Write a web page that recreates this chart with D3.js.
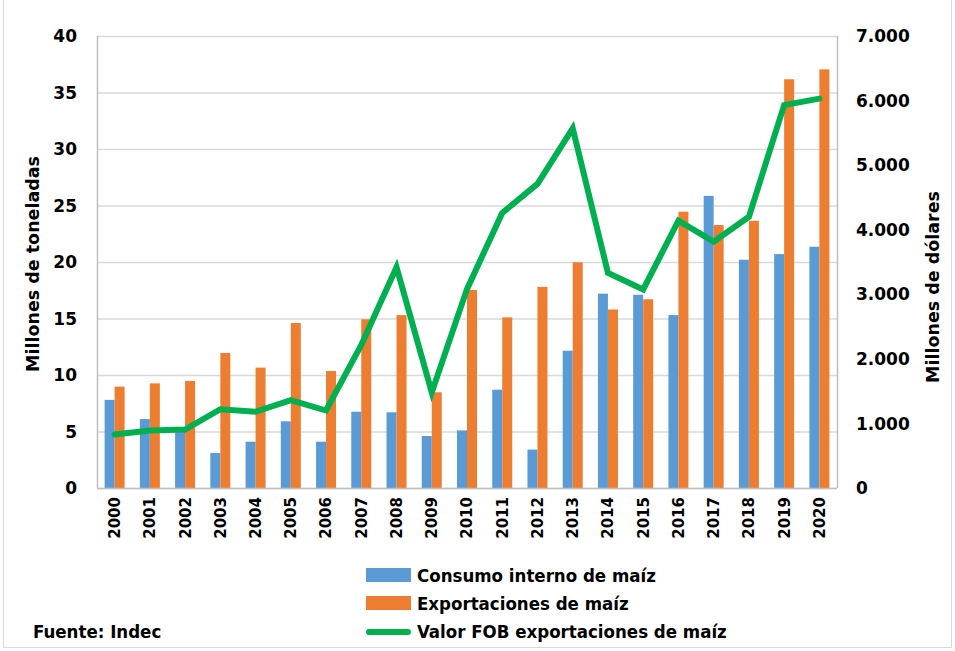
<!DOCTYPE html>
<html lang="es">
<head>
<meta charset="UTF-8">
<title>Maíz: consumo interno, exportaciones y valor FOB</title>
<script src="https://d3js.org/d3.v7.min.js"></script>
<style>
  body { margin: 0; background: #fff; }
  text { font-family: "DejaVu Sans", sans-serif; font-weight: bold; fill: #000; }
  .legend text, .source { font-family: "DejaVu Sans Condensed", "Liberation Sans Narrow", sans-serif; }
</style>
</head>
<body>
<svg id="chart"></svg>
<script>
// years on the x axis
const years = ["2000","2001","2002","2003","2004","2005","2006","2007","2008","2009","2010",
               "2011","2012","2013","2014","2015","2016","2017","2018","2019","2020"];
// millones de toneladas
const consumo = [7.8, 6.1, 5.0, 3.1, 4.1, 5.9, 4.1, 6.75, 6.7, 4.6, 5.1,
                 8.7, 3.4, 12.15, 17.2, 17.1, 15.3, 25.85, 20.2, 20.7, 21.35];
const exportaciones = [8.97, 9.26, 9.47, 11.95, 10.65, 14.6, 10.35, 14.93, 15.3, 8.47, 17.52,
                       15.1, 17.8, 19.97, 15.8, 16.7, 24.45, 23.27, 23.65, 36.17, 37.05];
// millones de dólares
const valorFOB = [830, 890, 905, 1220, 1180, 1360, 1200, 2215, 3420, 1480, 3080,
                  4260, 4710, 5570, 3330, 3075, 4140, 3815, 4200, 5930, 6030];

const leftTicks = [0, 5, 10, 15, 20, 25, 30, 35, 40];
const rightTicks = [0, 1000, 2000, 3000, 4000, 5000, 6000, 7000];

const width = 955, height = 651;
const margin = { top: 36, right: 118, bottom: 163, left: 97 };
const innerW = width - margin.left - margin.right;
const innerH = height - margin.top - margin.bottom;

const svg = d3.select("#chart").attr("width", width).attr("height", height);

// outer frame
svg.append("rect")
    .attr("x", 3.5).attr("y", -5).attr("width", 948).attr("height", 652.5)
    .attr("fill", "none").attr("stroke", "#d9d9d9");

const g = svg.append("g").attr("transform", `translate(${margin.left},${margin.top})`);

const x = d3.scaleBand().domain(years).range([0, innerW]);
const yL = d3.scaleLinear().domain([0, 40]).range([innerH, 0]);
const yR = d3.scaleLinear().domain([0, 7000]).range([innerH, 0]);

// gridlines
g.selectAll(".grid").data(leftTicks).join("line")
    .attr("x1", 0).attr("x2", innerW)
    .attr("y1", d => yL(d) + 0.5).attr("y2", d => yL(d) + 0.5)
    .attr("stroke", "#d9d9d9").attr("stroke-width", 1.5);

// side borders of the plot
g.append("line").attr("x1", 0.5).attr("x2", 0.5).attr("y1", 0).attr("y2", innerH)
    .attr("stroke", "#bfbfbf").attr("stroke-width", 1.5);
g.append("line").attr("x1", innerW + 0.5).attr("x2", innerW + 0.5).attr("y1", 0).attr("y2", innerH)
    .attr("stroke", "#bfbfbf").attr("stroke-width", 1.5);

const barW = 10;

g.selectAll(".bar-c").data(years).join("rect")
    .attr("x", d => x(d) + x.bandwidth() / 2 - barW)
    .attr("width", barW)
    .attr("y", (d, i) => yL(consumo[i]))
    .attr("height", (d, i) => innerH - yL(consumo[i]))
    .attr("fill", "#5b9bd5");

g.selectAll(".bar-e").data(years).join("rect")
    .attr("x", d => x(d) + x.bandwidth() / 2)
    .attr("width", barW)
    .attr("y", (d, i) => yL(exportaciones[i]))
    .attr("height", (d, i) => innerH - yL(exportaciones[i]))
    .attr("fill", "#ed7d31");

// bottom axis line
g.append("line").attr("x1", 0).attr("x2", innerW).attr("y1", innerH + 0.5).attr("y2", innerH + 0.5)
    .attr("stroke", "#bfbfbf").attr("stroke-width", 1.5);

const line = d3.line()
    .x((d, i) => x(years[i]) + x.bandwidth() / 2)
    .y(d => yR(d));

g.append("path")
    .datum(valorFOB)
    .attr("d", line)
    .attr("fill", "none")
    .attr("stroke", "#00b050")
    .attr("stroke-width", 6)
    .attr("stroke-linejoin", "miter")
    .attr("stroke-linecap", "round");

// left axis labels
g.selectAll(".tl").data(leftTicks).join("text")
    .attr("x", -20).attr("y", d => yL(d)).attr("dy", "0.36em")
    .attr("text-anchor", "end").style("font-size", "17px")
    .text(d => d);

// right axis labels
const fmtR = d => d === 0 ? "0" : d3.format(",")(d).replace(/,/g, ".");
g.selectAll(".tr").data(rightTicks).join("text")
    .attr("x", innerW + 19).attr("y", d => yR(d)).attr("dy", "0.36em")
    .attr("text-anchor", "start").style("font-size", "17px")
    .text(fmtR);

// year labels
g.selectAll(".yr").data(years).join("text")
    .attr("transform", d => `translate(${x(d) + x.bandwidth() / 2},${innerH + 9}) rotate(-90)`)
    .attr("text-anchor", "end").attr("dy", "0.36em")
    .style("font-size", "15px")
    .text(d => d);

// axis titles
svg.append("text")
    .attr("transform", `translate(33,${margin.top + innerH / 2 + 2}) rotate(-90)`)
    .attr("text-anchor", "middle").attr("dy", "0.36em")
    .style("font-size", "17.5px")
    .text("Millones de toneladas");

svg.append("text")
    .attr("transform", `translate(933,${margin.top + innerH / 2 + 25}) rotate(-90)`)
    .attr("text-anchor", "middle").attr("dy", "0.36em")
    .style("font-size", "17.5px")
    .text("Millones de dólares");

// legend
const legendItems = [
  { label: "Consumo interno de maíz", color: "#5b9bd5", type: "rect" },
  { label: "Exportaciones de maíz", color: "#ed7d31", type: "rect" },
  { label: "Valor FOB exportaciones de maíz", color: "#00b050", type: "line" }
];
const legend = svg.append("g").attr("class", "legend").attr("transform", "translate(366,575)");
const li = legend.selectAll("g").data(legendItems).join("g")
    .attr("transform", (d, i) => `translate(0,${i * 28})`);
li.filter(d => d.type === "rect").append("rect")
    .attr("x", 0).attr("y", -7).attr("width", 45).attr("height", 14).attr("fill", d => d.color);
li.filter(d => d.type === "line").append("line")
    .attr("x1", 3).attr("x2", 42).attr("y1", 1).attr("y2", 1)
    .attr("stroke", d => d.color).attr("stroke-width", 6).attr("stroke-linecap", "round");
li.append("text")
    .attr("x", 51).attr("dy", "0.36em")
    .style("font-size", "18.5px")
    .text(d => d.label);

svg.append("text").attr("class", "source")
    .attr("x", 33).attr("y", 631).attr("dy", "0.36em")
    .style("font-size", "18.5px")
    .text("Fuente: Indec");
</script>
</body>
</html>
